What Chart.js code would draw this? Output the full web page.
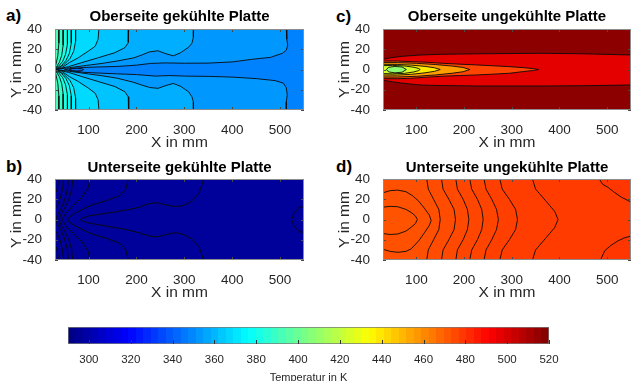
<!DOCTYPE html>
<html>
<head>
<meta charset="utf-8">
<script src="https://cdn.jsdelivr.net/npm/chart.js@4.4.1/dist/chart.umd.min.js"></script>
<style>
  html, body { margin: 0; padding: 0; background: #fff; width: 631px; height: 381px; overflow: hidden; position: relative; }
  canvas { position: absolute; }
  .tag { position: absolute; font: bold 17px "Liberation Sans", Arial, sans-serif; line-height: 20px; color: #000; }
</style>
</head>
<body>
<div class="tag" style="left:6px;top:6px">a)</div>
<div class="tag" style="left:6px;top:157px">b)</div>
<div class="tag" style="left:336px;top:7px">c)</div>
<div class="tag" style="left:336px;top:157px">d)</div>
<canvas id="cA" width="315" height="160" style="left:0;top:0"></canvas>
<canvas id="cB" width="315" height="160" style="left:0;top:150px"></canvas>
<canvas id="cC" width="303" height="160" style="left:328px;top:0"></canvas>
<canvas id="cD" width="303" height="160" style="left:328px;top:150px"></canvas>
<canvas id="cBar" width="631" height="80" style="left:0;top:315px"></canvas>
<script>
// ---------- achsen ----------
const xRange = [30, 550];
const yRange = [-40, 40];
const xTicks = [100, 200, 300, 400, 500];
const yTicks = [-40, -20, 0, 20, 40];
const cbarRange = [290, 520];
const cbarTicks = [300, 320, 340, 360, 380, 400, 420, 440, 460, 480, 500, 520];

// ---------- a) Oberseite gekühlte Platte : Isolinien [x, y] ----------
const aF1 = [[38,42],[38,26],[36,14],[32,5],[27,1.2],[27,-1.2],[32,-5],[36,-14],[38,-26],[38,-42]];
const aF2 = [[47,42],[47,24],[44,14],[39,7],[33,2.5],[27,0.9],[27,-0.9],[33,-2.5],[39,-7],[44,-14],[47,-24],[47,-42]];
const aF3 = [[56,42],[56,25],[52,15],[46,8],[37,3],[27,0.7],[27,-0.7],[37,-3],[46,-8],[52,-15],[56,-25],[56,-42]];
const aF4 = [[64,42],[64,26],[60,16],[53,9],[43,3.6],[33,1],[27,0.5],[27,-0.5],[33,-1],[43,-3.6],[53,-9],[60,-16],[64,-26],[64,-42]];
const aF5 = [[73,42],[73,28],[69,18],[61,10.5],[48,4.5],[36,1.2],[27,0.4],[27,-0.4],[36,-1.2],[48,-4.5],[61,-10.5],[69,-18],[73,-28],[73,-42]];
const aF6 = [[122,42],[120,30],[114,23],[100,18.3],[79,11.7],[60,6.8],[44,1.8],[27,0.3],[27,-0.3],[44,-1.8],[60,-7],[79,-12],[100,-18.5],[114,-23.5],[120,-30],[122,-42]];
const aF7 = [[184,42],[183,26.5],[176,21.6],[155,16.6],[121,11.7],[86,6.8],[58,2.8],[34,0.45],[27,0.2],[27,-0.2],[34,-0.45],[58,-2.8],[86,-7],[121,-12],[155,-16.8],[176,-22],[183,-27],[184,-42]];
const aF8 = [[319,42],[319,32],[316,26],[309,22],[292,16.5],[277,13.5],[262,15.5],[245,18.5],[228,17.5],[212,14.5],[195,11.5],[160,8.4],[128,6],[95,4],[60,1.8],[36,0.35],[27,0.1],
             [27,-0.1],[36,-0.35],[60,-1.8],[100,-4.4],[130,-6.3],[160,-8.6],[193,-12.5],[212,-15.5],[228,-17.8],[245,-18.6],[262,-15.8],[277,-13.8],[292,-16.5],[309,-22],[316,-27],[319,-32],[319,-42]];
const aF9 = [[513,42],[514,30],[516,24],[513,19],[505,16],[480,12],[440,10],[400,7.5],[350,6.3],[300,6.2],[260,6.5],[230,6],[200,4.3],[160,3],[120,2.5],[90,2],[65,1.1],[50,0],
             [65,-1.4],[90,-2.8],[120,-3.5],[160,-4.3],[200,-5],[240,-6.5],[270,-6],[300,-6.5],[350,-6.8],[400,-7.5],[450,-9],[490,-11],[507,-13.5],[513,-18],[515,-25],[513,-32],[513,-42]];
const aMin = [[60,0],[66,0.8],[75,1.1],[85,0.9],[90,0],[85,-1.2],[75,-1.5],[66,-1.1],[60,0]];
// Temperaturen der Flächen (K)
const aTemps = { base: 353, f8: 358, f7: 363, f6: 368, f5: 373, f4: 378, f3: 383, f2: 388, f1: 393, f9: 348, min: 343 };

// ---------- b) Unterseite gekühlte Platte ----------
const bArcT1 = [[37,42],[36,34],[33,28],[27,23]];
const bArcB1 = [[37,-42],[36,-34],[33,-28],[27,-23]];
const bArcT2 = [[48,42],[46,31],[41,21],[35,14],[27,9]];
const bArcB2 = [[48,-42],[46,-31],[41,-21],[35,-14],[27,-9]];
const b58 = [[58,42],[56,30],[50,19],[42,10],[35,4.5],[32,0],[35,-4.5],[42,-10],[50,-19],[56,-30],[58,-42]];
const b67 = [[67,42],[65,30],[59,20],[50,11],[42,5],[39,0],[42,-5],[50,-11],[59,-20],[65,-30],[67,-42]];
const b104 = [[103,42],[100,32],[86,22],[68,13.6],[52,6],[45,0],[52,-6],[68,-13.6],[86,-22],[100,-32],[103,-42]];
const b184 = [[184,42],[178,30],[165,23.5],[137,18.6],[103,13.6],[75,7],[60,2.5],[56,0],[60,-2.5],[75,-7],[103,-13.6],[137,-18.6],[165,-23.5],[178,-30],[184,-42]];
const bTip = [[342,42],[331,26],[315,18],[300,14],[283,12.7],[265,14],[245,16.5],[228,16],[205,12],[179,9.4],[150,7],[120,5],[100,3.5],[88,1.5],[83,0],
              [88,-1.5],[100,-3.5],[120,-5],[150,-7.5],[179,-10],[205,-13],[228,-16.5],[245,-17],[265,-14.5],[283,-13],[300,-15],[315,-19],[331,-27],[342,-42]];
const bRight = [[553,13],[540,12],[530,7],[524,0],[530,-7],[540,-12],[553,-13]];
const bTemp = 296;

// ---------- c) Oberseite ungekühlte Platte ----------
const cBand = [[27,9.8],[45,11.5],[70,13],[108,14.3],[150,15],[226,15.5],[300,15.8],[366,16],[450,15.5],[553,14.3],
               [553,-15.3],[450,-16],[366,-16.3],[300,-16.3],[226,-16.3],[150,-15.8],[108,-15.3],[70,-13.5],[45,-11.8],[27,-10.3]];
const cTongue = [[27,8.3],[60,8.4],[87,7.8],[120,7.2],[156,6.1],[190,5.3],[226,4.5],[260,3.7],[296,2.8],[325,1.8],[345,0.9],[356,0],
                 [345,-1],[325,-2],[296,-3.7],[260,-4.6],[226,-5.4],[190,-6],[156,-6.6],[120,-7.6],[87,-8.7],[60,-9.1],[27,-9]];
const cOrange = [[27,6.8],[60,6.8],[100,6.1],[140,4.9],[175,3.4],[198,2],[212,0],[198,-2.2],[175,-3.7],[140,-5.4],[100,-6.7],[60,-7.4],[27,-7.3]];
const cYellow = [[27,5.1],[60,5],[90,4.3],[118,3.1],[138,1.7],[150,0],[138,-1.8],[118,-3.3],[90,-4.7],[60,-5.5],[27,-5.4]];
const cLight = [[27,3.8],[50,4],[75,3.5],[95,2.2],[104,1.1],[108,0],[104,-1.2],[95,-2.4],[75,-3.8],[50,-4.3],[27,-4]];
const cGreen = [[37,0],[42,2.2],[55,3],[70,2.5],[79,0],[70,-2.7],[55,-3.3],[42,-2.4],[37,0]];
const cTemps = { base: 517, band: 497, tongue: 476, orange: 456, yellow: 438, light: 424, green: 408 };

// ---------- d) Unterseite ungekühlte Platte ----------
const dIn = [[27,12],[45,13],[61,12.6],[78,10],[89,7],[98,3.5],[102,0],[98,-4],[89,-7.7],[78,-11.5],[61,-14.3],[45,-14.8],[27,-13.7]];
const dOut = [[27,26],[45,28.5],[61,29],[78,27.5],[92,23.5],[105,18],[117,11],[127,4.5],[131,-1],[127,-6],[117,-13],[105,-21],[89,-29],[78,-31.5],[61,-32.4],[45,-31.5],[27,-29]];
const dLa = [[121,42],[125,30],[136,20],[147,10],[150,0],[147,-10],[136,-20],[125,-30],[121,-42]];
const dLb = [[152,42],[156,30],[168,20],[179,10],[182,0],[179,-10],[168,-20],[156,-30],[152,-42]];
const dLc = [[182,42],[186,30],[198,20],[207,10],[210,0],[207,-10],[198,-20],[186,-30],[182,-42]];
const dLd = [[211,42],[216,30],[228,20],[237,10],[240,0],[237,-10],[228,-20],[216,-30],[211,-42]];
const dLe = [[241,42],[246,30],[258,20],[268,10],[272,0],[268,-10],[258,-20],[246,-30],[241,-42]];
const dLf = [[274,42],[280,30],[295,20],[308,10],[312,0],[308,-10],[295,-20],[280,-30],[274,-42]];
const dLg = [[342,42],[350,30],[372,18],[390,8],[397,0],[390,-8],[372,-18],[350,-30],[342,-42]];
const dTR = [[481,42],[490,35],[502,31.7],[516,26.5],[530,22],[553,16.5]];
const dBR = [[553,-16],[537,-18],[523,-21],[508,-25.5],[495,-30.8],[484,-42]];
const dTemps = { base: 478, lg: 477.5, lf: 477, le: 476, ld: 475.5, lc: 475, lb: 474, la: 473.5, out: 473, inner: 472.5, corner: 479 };

// ==========================================================
Chart.defaults.font.family = '"Liberation Sans", Arial, sans-serif';
const LINE = 'rgba(10,10,10,0.9)';
const PAD = 15;

// jet-Farbskala ueber 290..520 K
function jetRgb(t) {
  const f = v => Math.round(255 * Math.min(1, Math.max(0, 1.5 - Math.abs(4 * t - v))));
  return `rgb(${f(3)},${f(2)},${f(1)})`;
}
function jet(T) {
  return jetRgb(Math.min(1, Math.max(0, (T - cbarRange[0]) / (cbarRange[1] - cbarRange[0]))));
}

// Linie ausserhalb der Achsen schliessen (links oder rechts herum)
function closeShape(pts, side) {
  if (!side) return pts;
  const [x0, x1] = xRange, [y0, y1] = yRange;
  const out = ([x, y]) => y > y1 ? [x, y1 + PAD] : y < y0 ? [x, y0 - PAD] : x < x0 ? [x0 - PAD, y] : [x1 + PAD, y];
  const first = pts[0], last = pts[pts.length - 1];
  const edgeX = side === 'left' ? x0 - PAD : x1 + PAD;
  const tail = [out(last)];
  if (last[1] < y0) tail.push([edgeX, y0 - PAD]);
  if (first[1] > y1) tail.push([edgeX, y1 + PAD]);
  tail.push(out(first));
  return [...pts, ...tail, first];
}
const toXY = pts => pts.map(([x, y]) => ({ x, y }));

function shape(pts, temp, side, bw = 1) {
  return { data: toXY(closeShape(pts, side)), fill: 'shape', backgroundColor: jet(temp),
           borderColor: LINE, borderWidth: bw, pointRadius: 0, tension: 0 };
}
function baseShape(temp) {
  const box = [[xRange[0] - PAD, yRange[0] - PAD], [xRange[1] + PAD, yRange[0] - PAD],
               [xRange[1] + PAD, yRange[1] + PAD], [xRange[0] - PAD, yRange[1] + PAD], [xRange[0] - PAD, yRange[0] - PAD]];
  return shape(box, temp, null, 0);
}
function contour(pts) {
  return { data: toXY(pts), fill: false, borderColor: LINE, borderWidth: 1, pointRadius: 0, tension: 0 };
}

// Rahmen + Ticks nach innen (MATLAB Stil)
const framePlugin = {
  id: 'frame',
  afterDatasetsDraw(chart) {
    const { ctx, chartArea: a, scales: { x, y } } = chart;
    ctx.save();
    ctx.strokeStyle = '#4a4a4a';
    ctx.lineWidth = 1;
    ctx.beginPath();
    xTicks.forEach(v => {
      const px = Math.round(x.getPixelForValue(v)) + 0.5;
      ctx.moveTo(px, a.bottom); ctx.lineTo(px, a.bottom - 3);
      ctx.moveTo(px, a.top); ctx.lineTo(px, a.top + 3);
    });
    yTicks.forEach(v => {
      const py = Math.round(y.getPixelForValue(v)) + 0.5;
      ctx.moveTo(a.left, py); ctx.lineTo(a.left + 3, py);
      ctx.moveTo(a.right, py); ctx.lineTo(a.right - 3, py);
    });
    ctx.stroke();
    ctx.strokeStyle = '#8c8c8c';
    ctx.strokeRect(a.left + 0.5, a.top + 0.5, a.width - 1, a.height - 1);
    ctx.restore();
  }
};

function panel(id, title, titleTop, rightPad, layers) {
  // layers: von unten nach oben; Chart.js zeichnet den letzten Datensatz zuerst
  return new Chart(document.getElementById(id), {
    type: 'line',
    data: { datasets: layers.slice().reverse() },
    plugins: [framePlugin],
    options: {
      responsive: false, animation: false, devicePixelRatio: 1, events: [],
      layout: { padding: { left: 0, right: rightPad, top: 0, bottom: 0 } },
      plugins: {
        legend: { display: false }, tooltip: { enabled: false },
        title: { display: true, text: title, fullSize: false, color: '#000',
                 font: { size: 15, weight: 'bold' }, padding: { top: titleTop, bottom: 11 - titleTop } }
      },
      scales: {
        x: {
          type: 'linear', min: xRange[0], max: xRange[1],
          grid: { display: false }, border: { display: false },
          afterBuildTicks: s => { s.ticks = xTicks.map(v => ({ value: v })); },
          afterFit: s => { s.height = 50; },
          ticks: { padding: 4, color: '#262626', font: { size: 13.5 }, autoSkip: false, maxRotation: 0 },
          title: { display: true, text: 'X in mm', color: '#262626', font: { size: 15.5 }, padding: { top: 0, bottom: 7.5 } }
        },
        y: {
          type: 'linear', min: yRange[0], max: yRange[1],
          grid: { display: false }, border: { display: false },
          afterBuildTicks: s => { s.ticks = yTicks.map(v => ({ value: v })); },
          afterFit: s => { s.width = 55; },
          ticks: { padding: 5, color: '#262626', font: { size: 13.5 }, autoSkip: false },
          title: { display: true, text: 'Y in mm', color: '#262626', font: { size: 15.5 }, padding: { top: 7.3, bottom: 0 } }
        }
      }
    }
  });
}

// a)
panel('cA', 'Oberseite gekühlte Platte', 8, 11, [
  baseShape(aTemps.base),
  shape(aF8, aTemps.f8, 'left'),
  shape(aF7, aTemps.f7, 'left'),
  shape(aF6, aTemps.f6, 'left'),
  shape(aF5, aTemps.f5, 'left'),
  shape(aF4, aTemps.f4, 'left'),
  shape(aF3, aTemps.f3, 'left'),
  shape(aF2, aTemps.f2, 'left'),
  shape(aF1, aTemps.f1, 'left'),
  shape(aF9, aTemps.f9, 'right'),
  shape(aMin, aTemps.min, null)
]);

// b)
panel('cB', 'Unterseite gekühlte Platte', 9, 11, [
  baseShape(bTemp),
  contour(bArcT1), contour(bArcB1), contour(bArcT2), contour(bArcB2),
  contour(b58), contour(b67), contour(b104), contour(b184), contour(bTip), contour(bRight)
]);

// c)
panel('cC', 'Oberseite ungekühlte Platte', 8, 0, [
  baseShape(cTemps.base),
  shape(cBand, cTemps.band, 'left'),
  shape(cTongue, cTemps.tongue, 'left'),
  shape(cOrange, cTemps.orange, 'left'),
  shape(cYellow, cTemps.yellow, 'left'),
  shape(cLight, cTemps.light, 'left'),
  shape(cGreen, cTemps.green, null)
]);

// d)
panel('cD', 'Unterseite ungekühlte Platte', 9, 0, [
  baseShape(dTemps.base),
  shape(dLg, dTemps.lg, 'left'),
  shape(dLf, dTemps.lf, 'left'),
  shape(dLe, dTemps.le, 'left'),
  shape(dLd, dTemps.ld, 'left'),
  shape(dLc, dTemps.lc, 'left'),
  shape(dLb, dTemps.lb, 'left'),
  shape(dLa, dTemps.la, 'left'),
  shape(dOut, dTemps.out, 'left'),
  shape(dIn, dTemps.inner, 'left'),
  shape(dTR, dTemps.corner, 'right'),
  shape(dBR, dTemps.corner, 'right')
]);

// ---------- Farbskala ----------
const cbarTickPlugin = {
  id: 'cbarTicks',
  afterDatasetsDraw(chart) {
    const { ctx, chartArea: a, scales: { x } } = chart;
    ctx.save();
    ctx.strokeStyle = '#333';
    ctx.lineWidth = 1;
    ctx.beginPath();
    cbarTicks.forEach(v => {
      const px = Math.round(x.getPixelForValue(v)) + 0.5;
      ctx.moveTo(px, a.bottom); ctx.lineTo(px, a.bottom - 4);
    });
    ctx.stroke();
    ctx.restore();
  }
};

new Chart(document.getElementById('cBar'), {
  type: 'bar',
  data: {
    labels: ['T'],
    datasets: [{
      data: [cbarRange],
      backgroundColor: c => {
        const chart = c.chart;
        if (!chart.chartArea) return '#888';
        const xs = chart.scales.x;
        const x0 = xs.getPixelForValue(cbarRange[0]), x1 = xs.getPixelForValue(cbarRange[1]);
        const g = chart.ctx.createLinearGradient(x0, 0, x1, 0);
        const n = 64;
        for (let i = 0; i < n; i++) {
          const col = jetRgb((i + 0.5) / n);
          g.addColorStop(i / n, col);
          g.addColorStop((i + 1) / n - 1e-4, col);
        }
        return g;
      },
      borderColor: '#7a7a7a', borderWidth: 1, borderSkipped: false,
      barPercentage: 1, categoryPercentage: 1
    }]
  },
  plugins: [cbarTickPlugin],
  options: {
    indexAxis: 'y', responsive: false, animation: false, devicePixelRatio: 1, events: [],
    layout: { padding: { left: 68, right: 82, top: 12, bottom: 0 } },
    plugins: { legend: { display: false }, tooltip: { enabled: false } },
    scales: {
      y: { type: 'category', display: false },
      x: {
        type: 'linear', min: cbarRange[0], max: cbarRange[1],
        grid: { display: false }, border: { display: false },
        afterBuildTicks: s => { s.ticks = cbarTicks.map(v => ({ value: v })); },
        afterFit: s => { s.height = 51; },
        ticks: { padding: 1, color: '#262626', font: { size: 11.5 }, autoSkip: false, maxRotation: 0 },
        title: { display: true, text: 'Temperatur in K', color: '#262626', font: { size: 11 }, padding: { top: 0, bottom: 10.4 } }
      }
    }
  }
});
</script>
</body>
</html>
